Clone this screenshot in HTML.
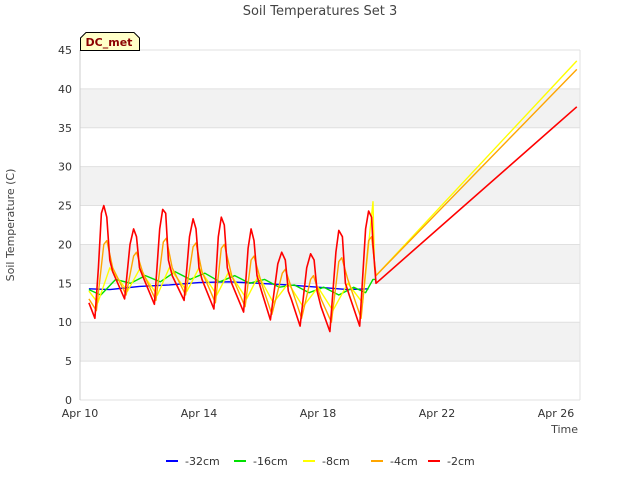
<!DOCTYPE html>
<html><head><meta charset="utf-8"><style>
body{margin:0;background:#fff;font-family:"Liberation Sans","DejaVu Sans",sans-serif}
text{font-family:"DejaVu Sans","Liberation Sans",sans-serif}
</style></head><body>
<svg id="chart" width="640" height="480" viewBox="0 0 640 480">
<g id="bands"></g><g id="grid"></g>
<text x="320" y="15" text-anchor="middle" font-size="13" fill="#444">Soil Temperatures Set 3</text>
<text x="14" y="225" text-anchor="middle" font-size="11" fill="#444" transform="rotate(-90 14 225)">Soil Temperature (C)</text>
<text x="578" y="433" text-anchor="end" font-size="11" fill="#444">Time</text>
<g id="ticks"></g><g id="series"></g>
<g>
<path d="M80.5,50.5 V38 L86,32.5 H134 L139.5,38 V50.5 Z" fill="#ffffc8" stroke="#000"/>
<text x="109" y="46" text-anchor="middle" font-size="11" font-weight="bold" fill="#8b0000">DC_met</text></g>
<g id="legend"></g>
</svg>
<script>
const yTicks=[0,5,10,15,20,25,30,35,40,45];
const xTickDays=[0,4,8,12,16];
const xTickLabels=["Apr 10","Apr 14","Apr 18","Apr 22","Apr 26"];
const seriesNames=["-32cm","-16cm","-8cm","-4cm","-2cm"];
const seriesColors=["#0000ff","#00e000","#ffff00","#ffa500","#ff0000"];
const blueT=[0.3,1,2,3,4,5,6,7,8,9,9.7];
const blueV=[14.3,14.2,14.6,14.8,15.1,15.2,15,14.8,14.5,14.2,14.3];
const greenT=[0.3,0.7,1.2,1.7,2.2,2.7,3.2,3.7,4.2,4.7,5.2,5.7,6.2,6.7,7.2,7.7,8.2,8.7,9.2,9.6,9.85,9.95];
const greenV=[14.2,13.5,15.5,15,16,15.2,16.5,15.5,16.3,15.2,16,15,15.5,14.5,14.8,13.8,14.5,13.5,14.5,13.8,15.5,15.5];
const yellowT=[0.3,0.6,1.0,1.6,2.0,2.6,3.0,3.6,4.0,4.6,5.0,5.6,6.0,6.5,7.0,7.5,8.0,8.5,9.0,9.5,9.85,9.9,9.95,16.7];
const yellowV=[14,12.5,17,14,16.8,13.5,17,14,17,13.5,16.5,13,16,12.5,15,12,14.5,11.5,15,12.5,25.5,17,16,43.6];
const orangeT=[0.3,0.55,0.8,0.9,1.1,1.55,1.8,1.9,2.1,2.55,2.8,2.9,3.1,3.55,3.8,3.9,4.1,4.55,4.75,4.85,5.1,5.55,5.75,5.85,6.1,6.45,6.8,6.9,7.1,7.45,7.75,7.85,8.1,8.45,8.7,8.8,9.0,9.45,9.7,9.8,9.95,16.7];
const orangeV=[13,11.5,20,20.5,17,13.5,18.5,19,16.5,12.8,20.3,20.8,17,13.5,19.7,20.2,16.5,12.5,19.5,20,16,12,18,18.5,15,11,16.3,16.8,14.5,10.5,15.5,16,13,10,17.8,18.3,15.5,10.5,20.5,21,16,42.5];
const redT=[0.3,0.5,0.62,0.72,0.8,0.9,1.0,1.1,1.5,1.68,1.8,1.9,2.0,2.1,2.5,2.68,2.78,2.88,2.97,3.1,3.5,3.68,3.8,3.9,4.0,4.1,4.5,4.65,4.75,4.85,4.95,5.1,5.5,5.65,5.75,5.85,5.95,6.1,6.4,6.65,6.78,6.9,7.0,7.1,7.4,7.62,7.75,7.87,7.97,8.1,8.4,8.6,8.7,8.82,8.92,9.05,9.4,9.6,9.7,9.8,9.85,9.95,16.7];
const redV=[12.5,10.5,17,24,25,23.5,18,16.5,13,20,22,21,17,16,12.3,22,24.5,24,18,16,12.8,21,23.3,22,17,15.5,11.7,21,23.5,22.5,17,15,11.3,19.5,22,20.5,16,14,10.3,17.5,19,18,14,13,9.5,17,18.8,18,14,12,8.8,19,21.8,21,15,13.5,9.5,22,24.3,23.5,20,15,37.7];
const allT=[blueT,greenT,yellowT,orangeT,redT], allV=[blueV,greenV,yellowV,orangeV,redV];
const NS="http://www.w3.org/2000/svg";
const X0=80,X1=580,Y0=400,Y1=50;
const xs=d=>X0+d*29.75, ys=v=>Y0-(v/45)*(Y0-Y1);
function mk(t,a,p){const e=document.createElementNS(NS,t);for(const k in a)e.setAttribute(k,a[k]);p.appendChild(e);return e;}
const bands=document.getElementById('bands'),grid=document.getElementById('grid'),ticks=document.getElementById('ticks');
mk('rect',{x:X0,y:Y1,width:X1-X0,height:Y0-Y1,fill:'#fff'},bands);
for(let i=1;i<yTicks.length;i+=2){const r=mk('rect',{x:X0,y:ys(yTicks[i+1]??45),width:X1-X0,height:ys(yTicks[i])-ys(yTicks[i+1]??45),fill:'#f2f2f2'},bands);

}
yTicks.forEach(v=>{const l=mk('line',{x1:X0,x2:X1,y1:ys(v),y2:ys(v),stroke:'#e0e0e0'},grid);


const t=mk('text',{x:X0-8,y:ys(v)+4,'text-anchor':'end','font-size':11,fill:'#333'},ticks);t.textContent=v;

});
mk('line',{x1:X0,x2:X0,y1:Y1,y2:Y0,stroke:'#ccc'},grid);
mk('line',{x1:X1,x2:X1,y1:Y1,y2:Y0,stroke:'#e0e0e0'},grid);
xTickDays.forEach((d,i)=>{const t=mk('text',{x:xs(d),y:Y0+17,'text-anchor':'middle','font-size':11,fill:'#333'},ticks);t.textContent=xTickLabels[i];

});
const sg=document.getElementById('series');
allT.forEach((T,i)=>{const pts=T.map((t,j)=>xs(t).toFixed(1)+','+ys(allV[i][j]).toFixed(1)).join(' ');
const p=mk('polyline',{points:pts,fill:'none',stroke:seriesColors[i],'stroke-width':i===4?1.6:1.4,'stroke-linejoin':'round'},sg);

});
const lg=document.getElementById('legend');const lx=[166,234,303,371,428];
seriesNames.forEach((n,i)=>{const g=mk('g',{},lg);


mk('line',{x1:lx[i],x2:lx[i]+12,y1:461,y2:461,stroke:seriesColors[i],'stroke-width':2},g);
const t=mk('text',{x:lx[i]+19,y:465,'font-size':11,fill:'#333'},g);t.textContent=n;});
</script>
</body></html>
